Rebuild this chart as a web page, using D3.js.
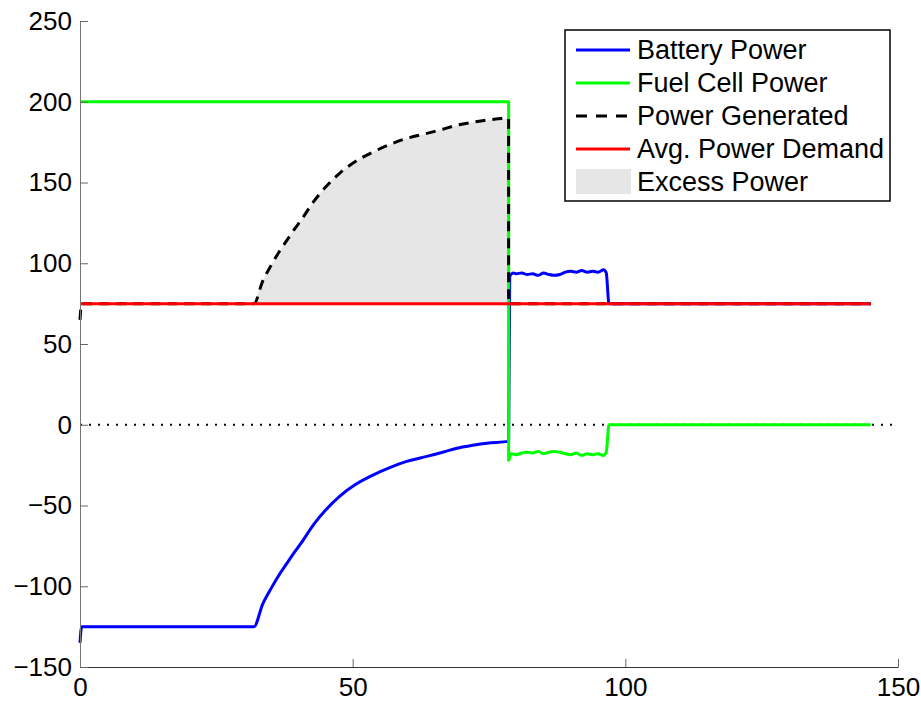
<!DOCTYPE html>
<html>
<head>
<meta charset="utf-8">
<script src="https://cdn.jsdelivr.net/npm/d3@7"></script>
<style>
	body { margin: 0; background: #fff; }
	svg text { font-family: "Liberation Sans", Arial, Helvetica, sans-serif; fill: #000; }
</style>
</head>
<body>
<svg id="chart" width="921" height="701"></svg>
<script>
// time axis values (s) and power (W)
var batteryT = [0, 0.3, 31.9, 33.5, 35.1, 36.5, 37.9, 39.3, 40.6, 42.8, 45, 47.7, 50.5, 53.8, 56.8, 59.9, 63.6, 66.5, 69.1, 72, 74.6, 78.6,
	78.8, 79.5, 80, 81, 82, 83, 84, 85, 86, 87, 88, 89, 90, 91, 92, 93, 94, 95, 96, 96.5, 97, 145];
var batteryP = [-135, -125, -125, -111, -101, -93, -86, -79, -73, -62, -53, -44, -37, -31, -26.5, -22.7, -19.6, -17, -14.5, -12.7, -11.4, -10.3,
	92, 94, 93.5, 94, 93, 93.5, 92.5, 94, 93, 92.5, 93, 94.5, 95, 94.5, 95.5, 94.5, 95, 94.5, 96, 94, 75, 75];

var fuelT = [0, 78.6, 78.6, 79, 80, 81, 82, 83, 84, 85, 86, 87, 88, 89, 90, 91, 92, 93, 94, 95, 96, 96.5, 97, 145];
var fuelP = [200, 200, -22, -18, -18.5, -17.5, -17, -17.5, -16.5, -18, -17, -16.5, -17, -18, -18.5, -17.5, -19, -18, -18.5, -18, -19, -17, 0, 0];

var genT = [0, 0.3, 31.9, 33.5, 35.1, 36.5, 37.9, 39.3, 40.6, 42.8, 45, 47.7, 50.5, 53.8, 56.8, 59.9, 63.6, 66.5, 69.1, 72, 74.6, 78.6, 78.6, 145];
var genP = [65, 75, 75, 89, 99, 107, 114, 121, 127, 138, 147, 156, 163, 169, 173.5, 177.3, 180.4, 183, 185.5, 187.3, 188.6, 189.7, 75, 75];

var demandT = [0, 145];
var demandP = [75, 75];

var zeroT = [0, 150];

var xTicks = [0, 50, 100, 150];
var yTicks = [-150, -100, -50, 0, 50, 100, 150, 200, 250];

var legendLabels = ['Battery Power', 'Fuel Cell Power', 'Power Generated', 'Avg. Power Demand', 'Excess Power'];

var svg = d3.select('svg#chart'),
    margin = {top: 21, right: 23, bottom: 34, left: 80},
    width = +svg.attr('width') - margin.left - margin.right,
    height = +svg.attr('height') - margin.top - margin.bottom,
    g = svg.append('g').attr('transform', 'translate(' + margin.left + ',' + margin.top + ')');

var x = d3.scaleLinear().domain([0, 150]).range([0, width]),
    y = d3.scaleLinear().domain([-150, 250]).range([height, 0]);

function zipSeries(ts, ps) {
	return ts.map(function(t, i) { return {t: t, v: ps[i]}; });
}

var line = d3.line()
	.curve(d3.curveMonotoneX)
	.x(function(d) { return x(d.t); })
	.y(function(d) { return y(d.v); });

var straight = d3.line()
	.x(function(d) { return x(d.t); })
	.y(function(d) { return y(d.v); });

// excess = generated above demand, only where the fuel cell runs
var excess = zipSeries(genT, genP).filter(function(d, i) { return d.t >= 31.9 && i < genT.length - 2; });
var area = d3.area()
	.curve(d3.curveMonotoneX)
	.x(function(d) { return x(d.t); })
	.y0(y(demandP[0]))
	.y1(function(d) { return y(d.v); });

var fmt = function(d) { return d < 0 ? '\u2212' + Math.abs(d) : '' + d; };

g.append('path')
	.datum(excess)
	.attr('fill', '#e6e6e6')
	.attr('d', area);

g.append('path')
	.datum(zipSeries(zeroT, [0, 0]))
	.attr('fill', 'none')
	.attr('stroke', '#000')
	.attr('stroke-width', 2)
	.attr('stroke-dasharray', '2,7')
	.attr('d', straight);

var series = [
	{data: zipSeries(batteryT, batteryP), color: '#0000ff', dash: null},
	{data: zipSeries(fuelT, fuelP), color: '#00ff00', dash: null},
	{data: zipSeries(genT, genP), color: '#000', dash: '10,7'},
	{data: zipSeries(demandT, demandP), color: '#ff0000', dash: null}
];

series.forEach(function(s) {
	g.append('path')
		.datum(s.data)
		.attr('fill', 'none')
		.attr('stroke', s.color)
		.attr('stroke-width', 3)
		.attr('stroke-linejoin', 'round')
		.attr('stroke-dasharray', s.dash)
		.attr('d', line);
});

var xAxis = g.append('g')
	.attr('transform', 'translate(0,' + height + ')')
	.call(d3.axisBottom(x).tickValues(xTicks).tickSize(-8).tickSizeOuter(0).tickPadding(11).tickFormat(fmt));

var yAxis = g.append('g')
	.call(d3.axisLeft(y).tickValues(yTicks).tickSize(-8).tickSizeOuter(0).tickPadding(8).tickFormat(fmt));

[xAxis, yAxis].forEach(function(a) {
	a.select('.domain').attr('stroke', '#333');
	a.selectAll('.tick line').attr('stroke', '#666');
	a.selectAll('.tick text').style('font-size', '26px');
});
yAxis.select('.domain').attr('stroke', '#777');

// legend
var lg = svg.append('g').attr('transform', 'translate(565,30)');
lg.append('rect')
	.attr('width', 325)
	.attr('height', 171)
	.attr('fill', '#fff')
	.attr('stroke', '#000')
	.attr('stroke-width', 1.5);

var rowY = d3.scaleLinear().domain([0, 4]).range([20, 152]);
legendLabels.forEach(function(lbl, i) {
	var cy = rowY(i);
	if (i < 4) {
		lg.append('line')
			.attr('x1', 11).attr('x2', 65)
			.attr('y1', cy).attr('y2', cy)
			.attr('stroke', series[i].color)
			.attr('stroke-width', 3)
			.attr('stroke-dasharray', i === 2 ? '11,9' : null);
	} else {
		lg.append('rect')
			.attr('x', 11).attr('y', cy - 13)
			.attr('width', 55).attr('height', 25)
			.attr('fill', '#e6e6e6');
	}
	lg.append('text')
		.attr('x', 72)
		.attr('y', cy)
		.attr('dy', '0.35em')
		.style('font-size', '27px')
		.text(lbl);
});
</script>
</body>
</html>
